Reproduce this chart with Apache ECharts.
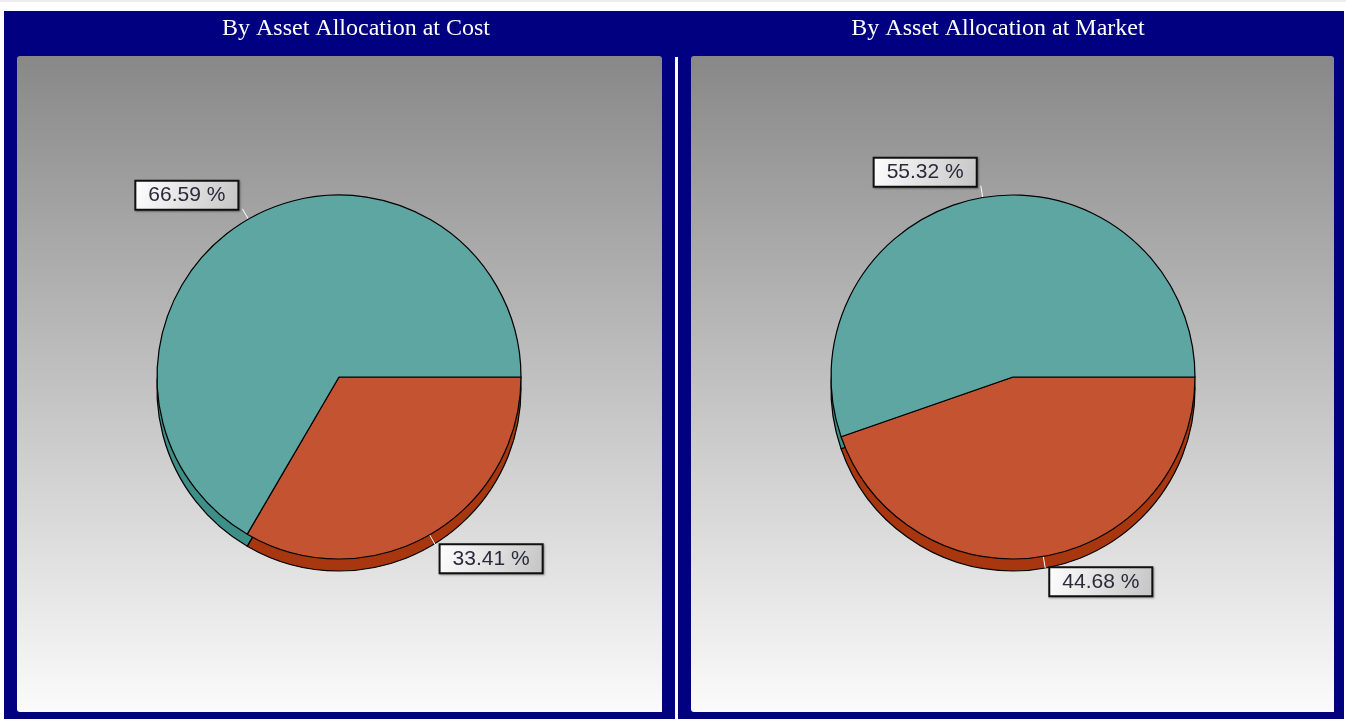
<!DOCTYPE html>
<html>
<head>
<meta charset="utf-8">
<script src="https://cdn.jsdelivr.net/npm/echarts@6/dist/echarts.min.js"></script>
<style>
html,body{margin:0;padding:0;background:#ffffff;}
#chart{width:1346px;height:720px;}
</style>
</head>
<body>
<div id="chart"></div>
<script>
// ---- data ----
const categories = ['Allocation A', 'Allocation B'];
const costValues = [33.41, 66.59];
const marketValues = [44.68, 55.32];
const chartTitles = ['By Asset Allocation at Cost', 'By Asset Allocation at Market'];

// ---- styles ----
const mainColors = ['#c35331', '#5ea6a2'];
const depthColors = ['#a8360f', '#3f8f89'];
const NAVY = '#000080';

const chart = echarts.init(document.getElementById('chart'), null, {renderer: 'canvas'});

function panelGradient() {
  return new echarts.graphic.LinearGradient(0, 0, 0, 1, [
    {offset: 0, color: '#888888'},
    {offset: 1, color: '#fbfbfb'}
  ]);
}

function labelBg() {
  return new echarts.graphic.LinearGradient(0, 0, 1, 1, [
    {offset: 0, color: '#ffffff'},
    {offset: 1, color: '#c4c4c4'}
  ]);
}

function buildData(values, colors) {
  return values.map((v, i) => ({name: categories[i], value: v, itemStyle: {color: colors[i]}}));
}

function mainPie(values, cx) {
  return {
    type: 'pie',
    z: 4,
    center: [cx, 377],
    radius: [0, 182],
    startAngle: 0,
    clockwise: true,
    avoidLabelOverlap: false,
    animation: false,
    itemStyle: {borderColor: '#000000', borderWidth: 1.2},
    emphasis: {disabled: true},
    label: {
      show: true,
      position: 'outside',
      formatter: p => p.value.toFixed(2) + ' %',
      fontFamily: 'Arial, "Liberation Sans", sans-serif',
      fontSize: 21,
      lineHeight: 22,
      color: '#2a2a3a',
      backgroundColor: labelBg(),
      borderColor: '#111111',
      borderWidth: 2,
      padding: [3, 12, 2, 12],
      shadowColor: 'rgba(0,0,0,0.35)',
      shadowOffsetX: 1,
      shadowOffsetY: 1,
      shadowBlur: 2
    },
    labelLine: {
      show: true,
      length: 12,
      length2: 0,
      smooth: false,
      lineStyle: {color: '#ffffff', width: 1}
    },
    labelLayout: function (params) {
      const r = params.labelRect;
      const a = params.labelLinePoints;
      if (!a) return {};
      const end = a[a.length - 1];
      const start = a[0];
      const down = end[1] > start[1];
      return {dy: down ? r.height / 2 - 2 : -r.height / 2 + 2};
    },
    data: buildData(values, mainColors)
  };
}

function depthPie(values, cx) {
  return {
    type: 'pie',
    z: 3,
    silent: true,
    center: [cx, 389],
    radius: [0, 182],
    startAngle: 0,
    clockwise: true,
    animation: false,
    itemStyle: {borderColor: '#000000', borderWidth: 1.2},
    label: {show: false},
    labelLine: {show: false},
    emphasis: {disabled: true},
    data: buildData(values, depthColors)
  };
}

const titleStyle = {color: '#ffffff', fontFamily: '"Liberation Serif", "Times New Roman", serif', fontSize: 24, fontWeight: 'normal'};

const option = {
  backgroundColor: '#ffffff',
  animation: false,
  title: [
    {text: chartTitles[0], left: 356, top: 17, padding: 0, textAlign: 'center', textStyle: titleStyle},
    {text: chartTitles[1], left: 998, top: 17, padding: 0, textAlign: 'center', textStyle: titleStyle}
  ],
  graphic: [
    {type: 'rect', z: -10, silent: true, shape: {x: 0, y: 0, width: 1346, height: 2}, style: {fill: '#ececec'}},
    {type: 'rect', z: -9, silent: true, shape: {x: 4, y: 11, width: 1340, height: 708}, style: {fill: NAVY}},
    {type: 'rect', z: -8, silent: true, shape: {x: 675, y: 57, width: 3, height: 663}, style: {fill: '#ffffff'}},
    {type: 'rect', z: -8, silent: true, shape: {x: 17, y: 56, width: 645, height: 656, r: [3, 3, 0, 3]}, style: {fill: panelGradient()}},
    {type: 'rect', z: -8, silent: true, shape: {x: 691, y: 56, width: 643, height: 656, r: [3, 3, 0, 3]}, style: {fill: panelGradient()}}
  ],
  series: [
    depthPie(costValues, 339),
    mainPie(costValues, 339),
    depthPie(marketValues, 1013),
    mainPie(marketValues, 1013)
  ]
};

chart.setOption(option);
</script>
</body>
</html>
